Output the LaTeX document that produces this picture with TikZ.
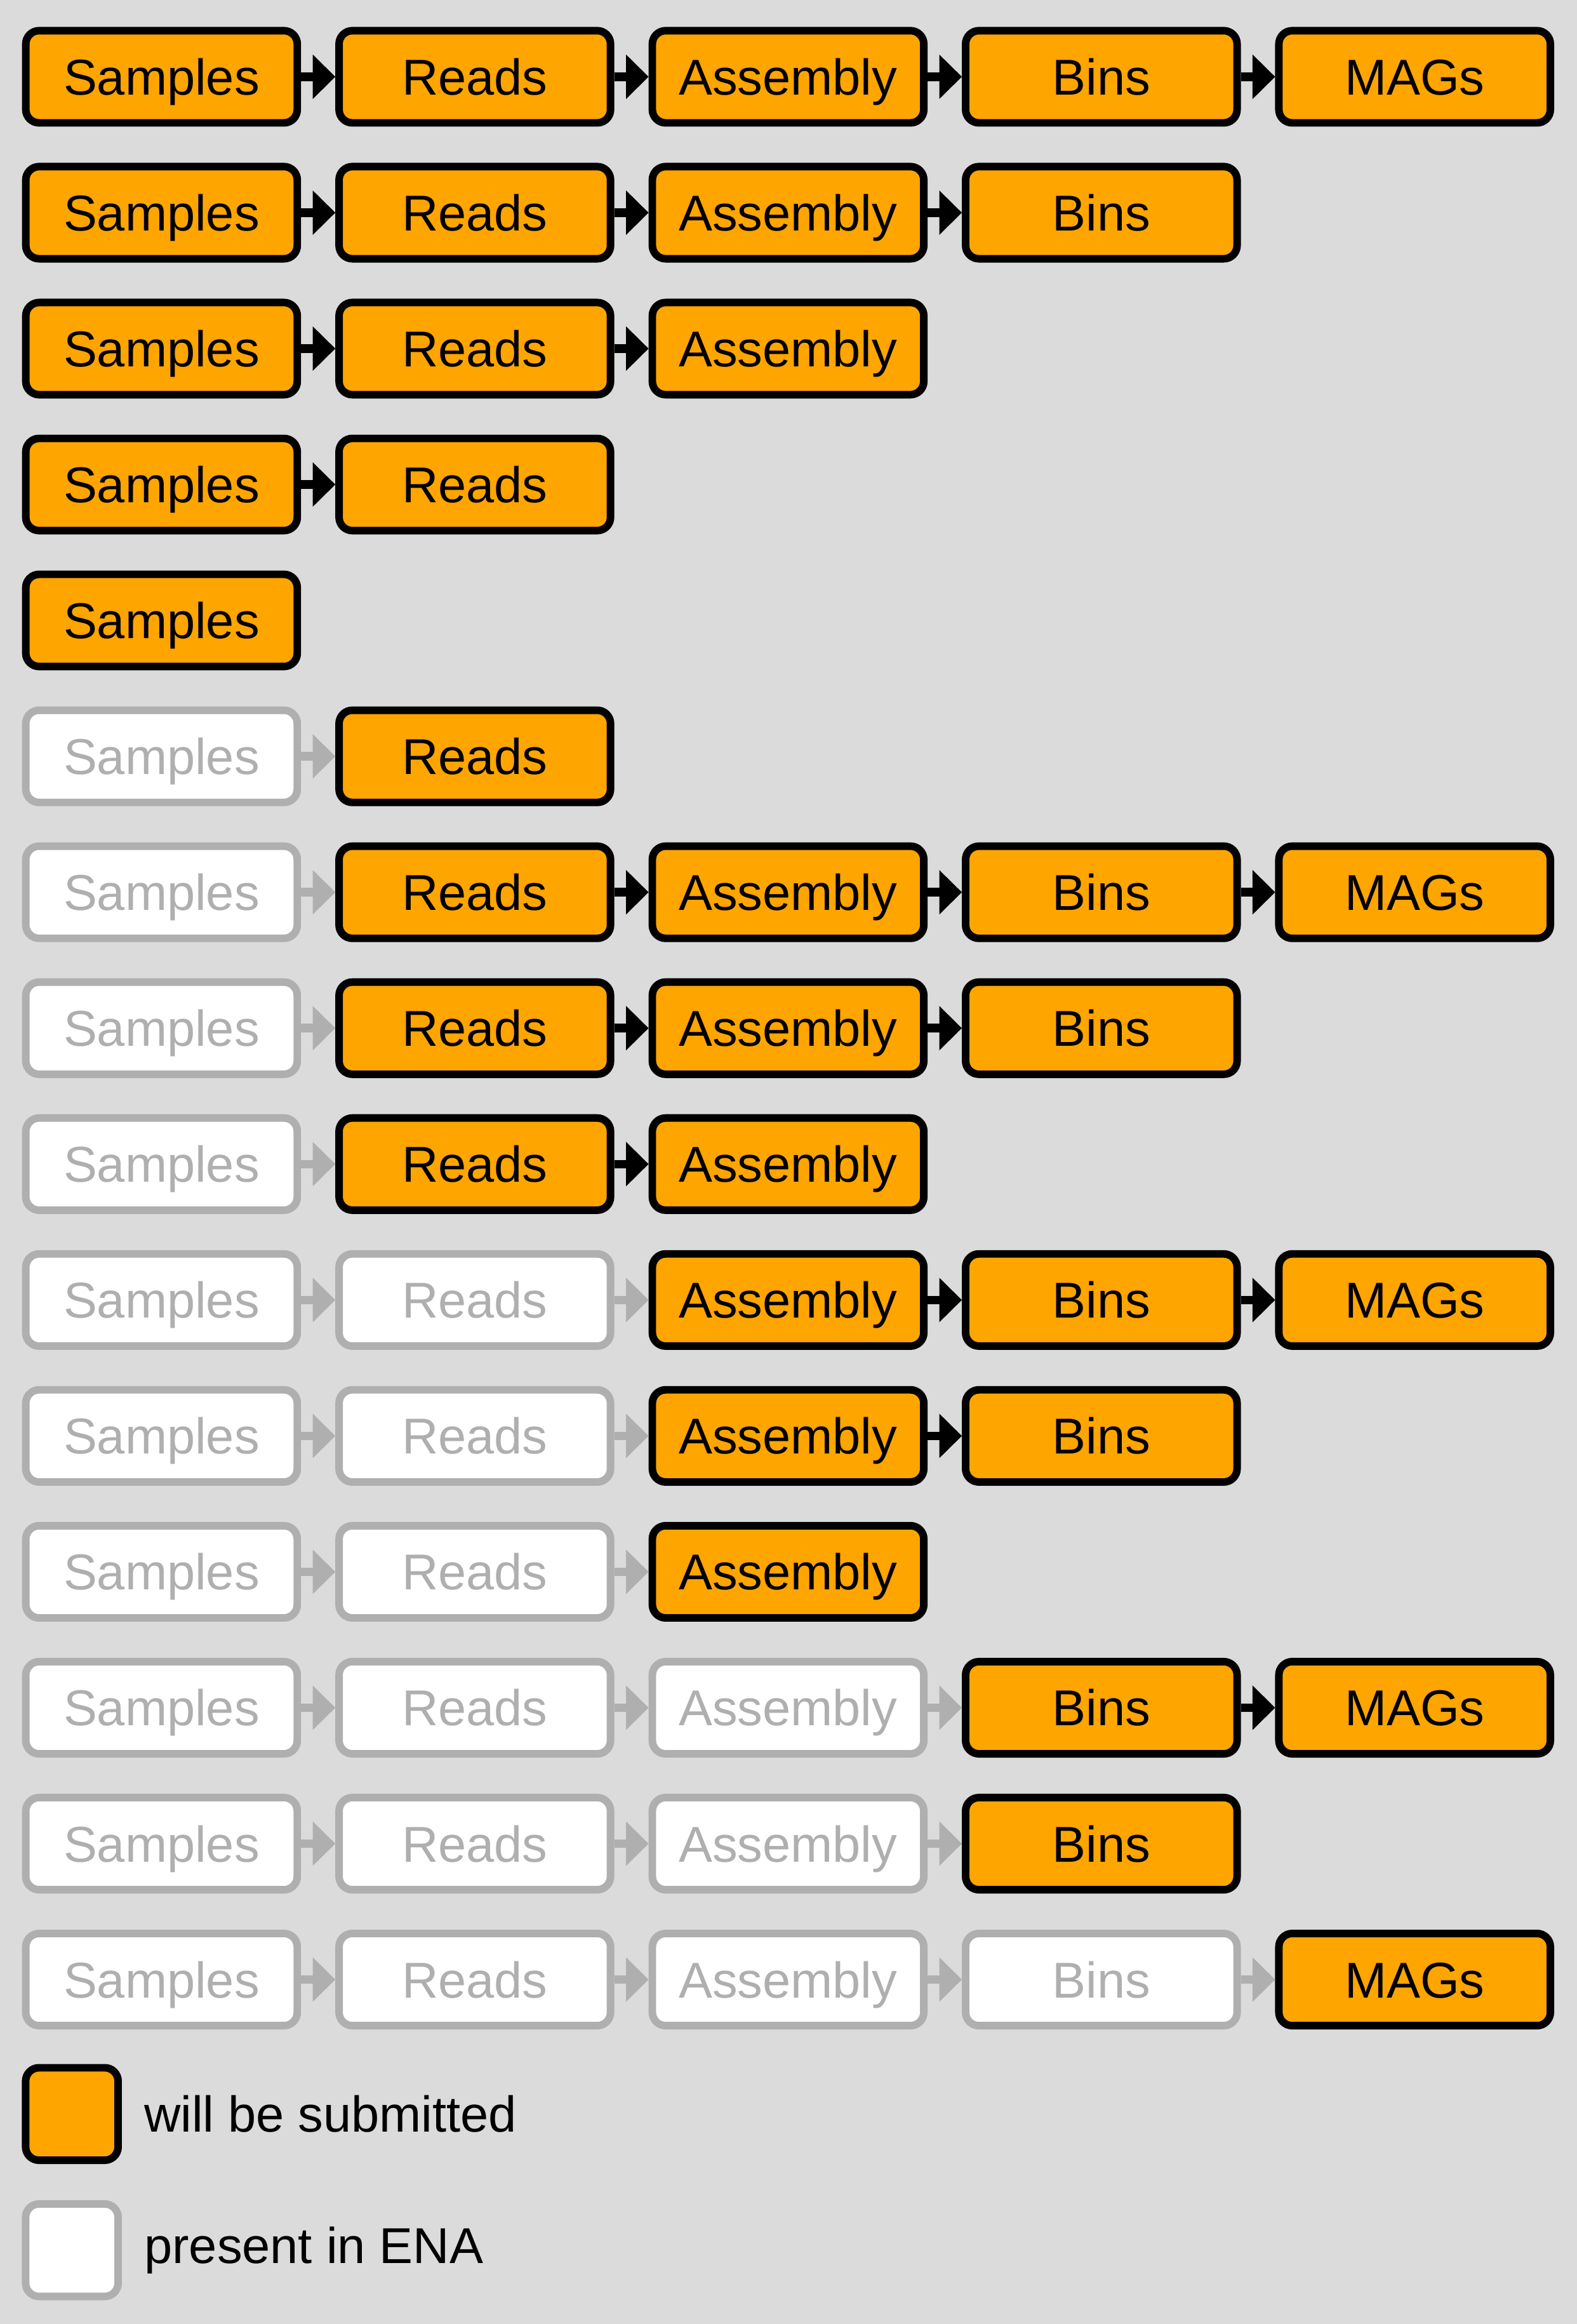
\documentclass[tikz,border=0pt]{standalone}
\usepackage{fontspec}
\setmainfont{Liberation Sans}
\usetikzlibrary{arrows.meta}
\definecolor{bgc}{HTML}{DBDBDB}
\definecolor{orng}{HTML}{FFA500}
\definecolor{grayc}{HTML}{AFAFAF}
\newcommand\collabel[1]{\ifcase#1\or Samples\or Reads\or Assembly\or Bins\or MAGs\fi}
\begin{document}
\begin{tikzpicture}[x=0.5pt,y=-0.5pt,
  box/.style={rounded corners=4.5pt, line width=2.55pt, minimum width=91.6pt,
    minimum height=31.1pt, inner sep=0pt, font=\fontsize{17}{20}\selectfont,
    text height=12.2pt, text depth=0pt},
  sub/.style={box, draw=black, fill=orng, text=black},
  ena/.style={box, draw=grayc, fill=white, text=grayc},
  ar/.style={line width=2.9pt, -{Triangle[length=7.6pt,width=15pt,line width=0pt]}},
  arb/.style={ar, draw=black},
  arg/.style={ar, draw=grayc},
  legtext/.style={anchor=west, inner sep=0pt, font=\fontsize{17}{20}\selectfont,
    text height=12.2pt, text depth=0pt}
]
\fill[bgc] (0,0) rectangle (1064,1568);
\useasboundingbox (0,0) rectangle (1064,1568);
\foreach \r/\e/\n in {1/0/5, 2/0/4, 3/0/3, 4/0/2, 5/0/1, 6/1/2, 7/1/5, 8/1/4,
  9/1/3, 10/2/5, 11/2/4, 12/2/3, 13/3/5, 14/3/4, 15/4/5}{
  \foreach \c in {1,...,\n}{
    \ifnum\c>\e
      \node[sub] (n-\r-\c) at ({109+(\c-1)*211.4},{51.8+(\r-1)*91.7}) {\collabel{\c}};
    \else
      \node[ena] (n-\r-\c) at ({109+(\c-1)*211.4},{51.8+(\r-1)*91.7}) {\collabel{\c}};
    \fi
  }
  \ifnum\n>1
    \foreach \c in {2,...,\n}{
      \pgfmathtruncatemacro\p{\c-1}
      \ifnum\c>\numexpr\e+1\relax
        \draw[arb] (n-\r-\p) -- (n-\r-\c);
      \else
        \draw[arg] (n-\r-\p) -- (n-\r-\c);
      \fi
    }
  \fi
}
\node[sub, minimum width=31.2pt, minimum height=31.2pt] (lg1) at (48.5,1426.3) {};
\node[ena, minimum width=31.2pt, minimum height=31.2pt] (lg2) at (48.5,1518.2) {};
\node[legtext] (t1) at (97,1426.3) {will be submitted};
\node[legtext] (t2) at (97,1515) {present in ENA};
\end{tikzpicture}
\end{document}
